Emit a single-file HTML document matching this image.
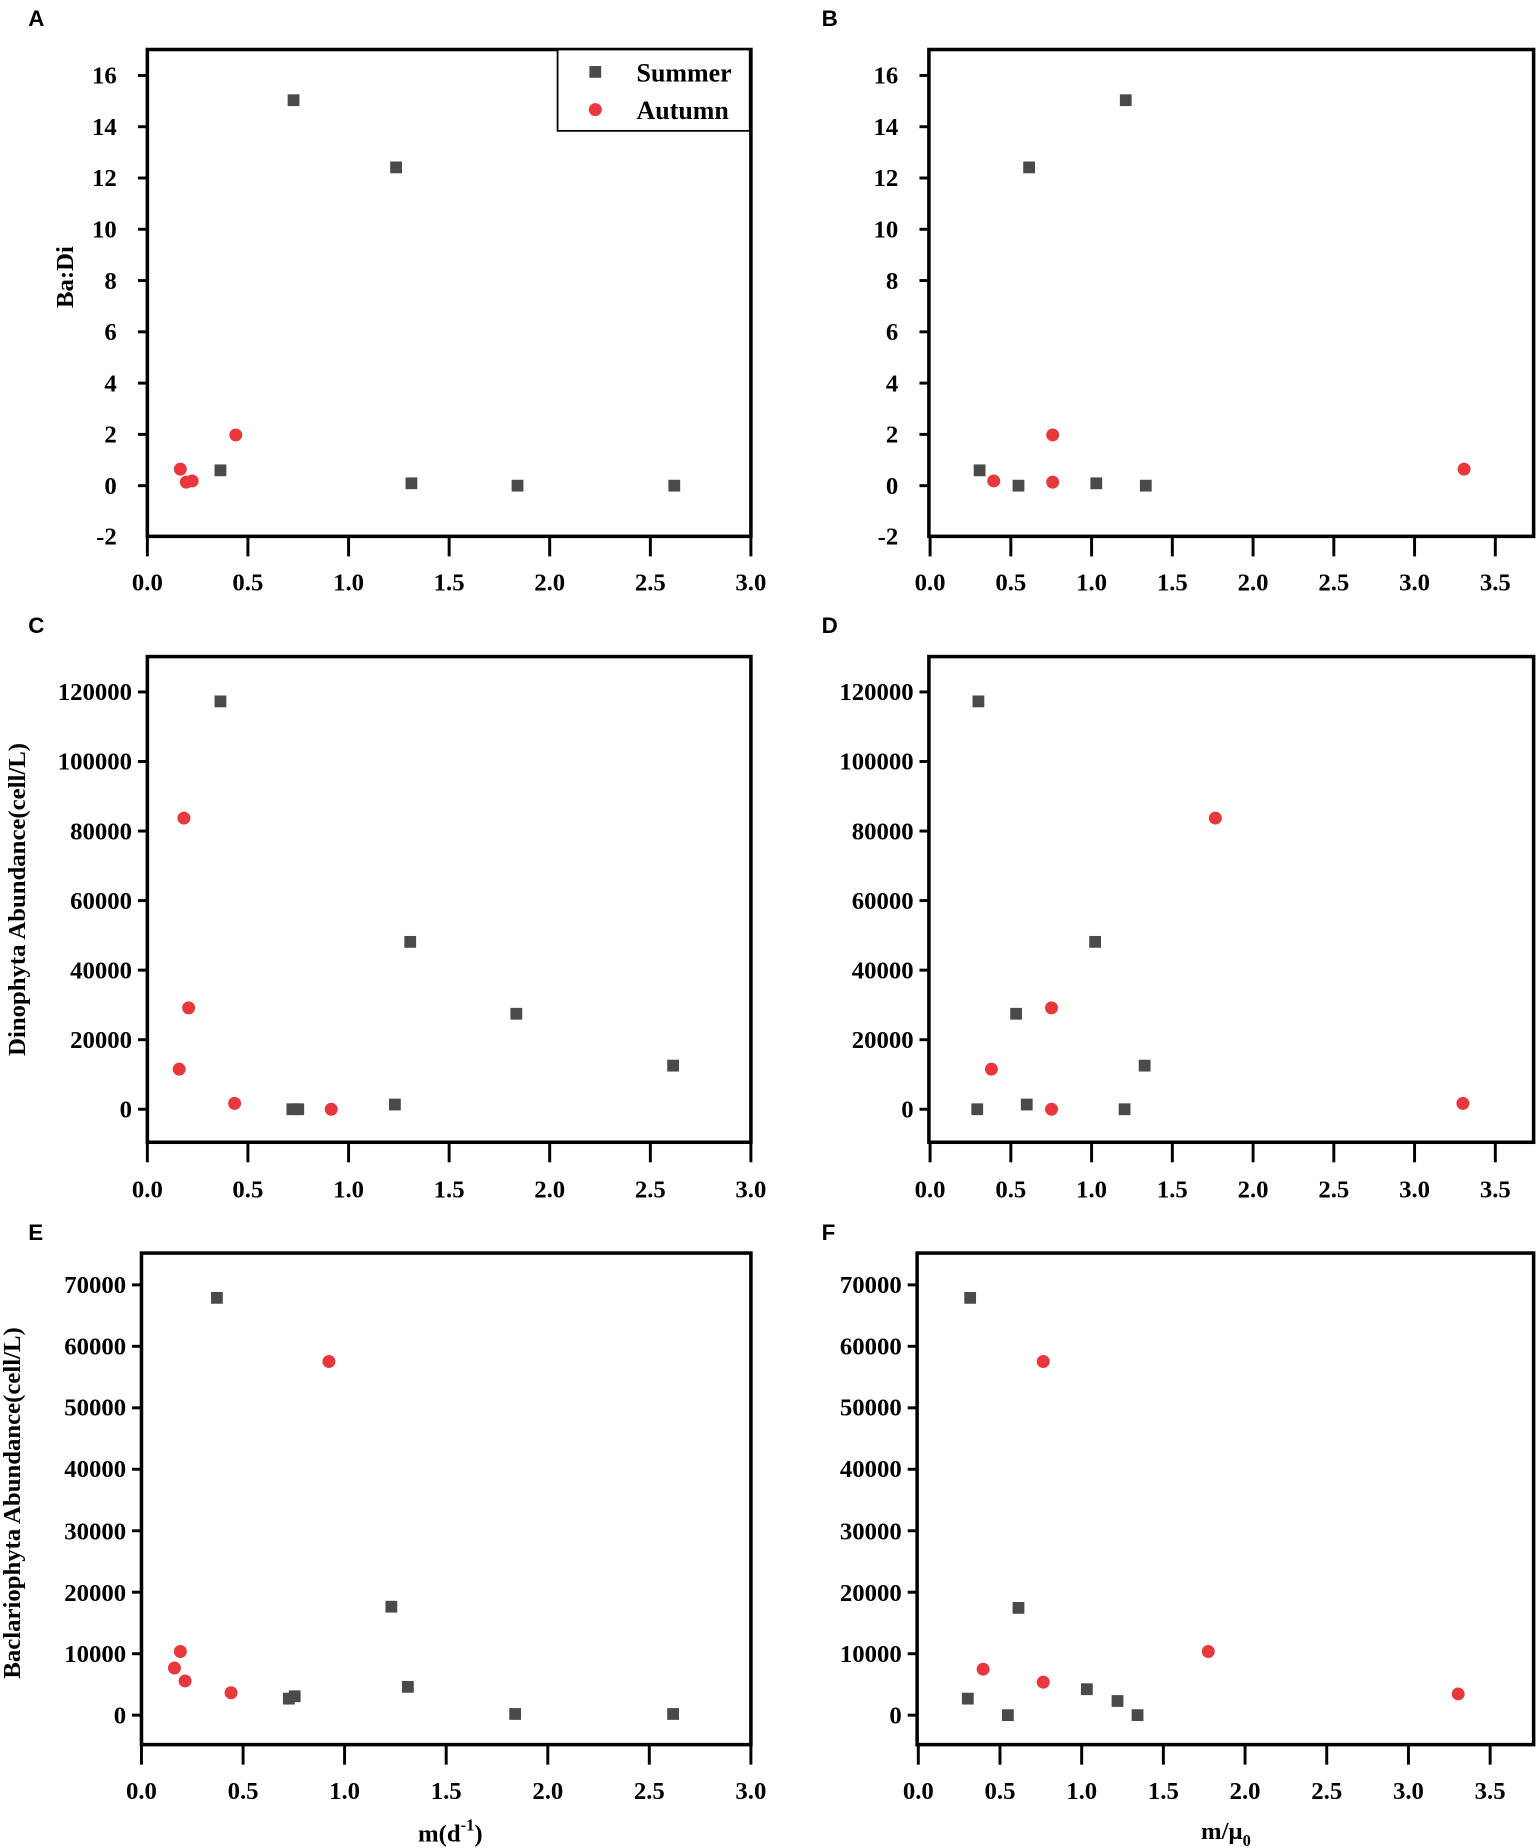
<!DOCTYPE html>
<html><head><meta charset="utf-8"><style>
html,body{margin:0;padding:0;background:#fff;}
svg{display:block;}
.t{font-family:"Liberation Serif",serif;font-weight:bold;font-size:21px;fill:#000;}
.r{text-anchor:end;}
.m{text-anchor:middle;}
.p{font-family:"Liberation Sans",sans-serif;font-weight:bold;font-size:19px;}
.ax{fill:none;stroke:#000;stroke-width:3;}
.tk{stroke:#000;stroke-width:2.5;}
.s{fill:#4a4a4a;}
.c{fill:#e8383d;}
</style></head><body>
<svg width="1536" height="1848" viewBox="0 0 1303 1567.7" xmlns="http://www.w3.org/2000/svg">
<!-- Panel letters -->
<text class="p" x="24" y="22">A</text>
<text class="p" x="697" y="22">B</text>
<text class="p" x="24" y="537">C</text>
<text class="p" x="697" y="537">D</text>
<text class="p" x="24" y="1052">E</text>
<text class="p" x="697" y="1052">F</text>

<!-- ===== A ===== -->
<rect class="ax" x="125" y="42" width="512" height="413"/>
<g class="tk">
<line x1="117" y1="64" x2="125" y2="64"/><line x1="117" y1="107.5" x2="125" y2="107.5"/><line x1="117" y1="151" x2="125" y2="151"/><line x1="117" y1="194.5" x2="125" y2="194.5"/><line x1="117" y1="238" x2="125" y2="238"/><line x1="117" y1="281.5" x2="125" y2="281.5"/><line x1="117" y1="325" x2="125" y2="325"/><line x1="117" y1="368.5" x2="125" y2="368.5"/><line x1="117" y1="412" x2="125" y2="412"/>
<line x1="125" y1="455" x2="125" y2="472"/><line x1="210.3" y1="455" x2="210.3" y2="472"/><line x1="295.7" y1="455" x2="295.7" y2="472"/><line x1="381" y1="455" x2="381" y2="472"/><line x1="466.3" y1="455" x2="466.3" y2="472"/><line x1="551.7" y1="455" x2="551.7" y2="472"/><line x1="637" y1="455" x2="637" y2="472"/>
</g>
<g class="t r">
<text x="99" y="71">16</text><text x="99" y="114.5">14</text><text x="99" y="158">12</text><text x="99" y="201.5">10</text><text x="99" y="245">8</text><text x="99" y="288.5">6</text><text x="99" y="332">4</text><text x="99" y="375.5">2</text><text x="99" y="419">0</text><text x="99" y="462">-2</text>
</g>
<g class="t m">
<text x="125" y="501">0.0</text><text x="210.3" y="501">0.5</text><text x="295.7" y="501">1.0</text><text x="381" y="501">1.5</text><text x="466.3" y="501">2.0</text><text x="551.7" y="501">2.5</text><text x="637" y="501">3.0</text>
</g>
<text class="t m" transform="translate(62,235) rotate(-90)">Ba:Di</text>
<rect x="473" y="42" width="163" height="69" fill="#fff" stroke="#000" stroke-width="1.5"/>
<rect class="s" x="500" y="56" width="10" height="10"/>
<circle class="c" cx="505" cy="93" r="5.5"/>
<text class="t" x="540" y="69" style="font-size:22px">Summer</text>
<text class="t" x="540" y="101" style="font-size:22px">Autumn</text>
<g class="s">
<rect x="244" y="80" width="10" height="10"/><rect x="331" y="137" width="10" height="10"/><rect x="182" y="394" width="10" height="10"/><rect x="344" y="405" width="10" height="10"/><rect x="434" y="407" width="10" height="10"/><rect x="567" y="407" width="10" height="10"/>
</g>
<g class="c">
<circle cx="153" cy="398" r="5.5"/><circle cx="158" cy="409" r="5.5"/><circle cx="163" cy="408" r="5.5"/><circle cx="200" cy="369" r="5.5"/>
</g>

<!-- ===== B ===== -->
<rect class="ax" x="788" y="42" width="513" height="413"/>
<g class="tk">
<line x1="780" y1="64" x2="788" y2="64"/><line x1="780" y1="107.5" x2="788" y2="107.5"/><line x1="780" y1="151" x2="788" y2="151"/><line x1="780" y1="194.5" x2="788" y2="194.5"/><line x1="780" y1="238" x2="788" y2="238"/><line x1="780" y1="281.5" x2="788" y2="281.5"/><line x1="780" y1="325" x2="788" y2="325"/><line x1="780" y1="368.5" x2="788" y2="368.5"/><line x1="780" y1="412" x2="788" y2="412"/>
<line x1="789" y1="455" x2="789" y2="472"/><line x1="857.5" y1="455" x2="857.5" y2="472"/><line x1="926" y1="455" x2="926" y2="472"/><line x1="994.5" y1="455" x2="994.5" y2="472"/><line x1="1063" y1="455" x2="1063" y2="472"/><line x1="1131.5" y1="455" x2="1131.5" y2="472"/><line x1="1200" y1="455" x2="1200" y2="472"/><line x1="1268.5" y1="455" x2="1268.5" y2="472"/>
</g>
<g class="t r">
<text x="762" y="71">16</text><text x="762" y="114.5">14</text><text x="762" y="158">12</text><text x="762" y="201.5">10</text><text x="762" y="245">8</text><text x="762" y="288.5">6</text><text x="762" y="332">4</text><text x="762" y="375.5">2</text><text x="762" y="419">0</text><text x="762" y="462">-2</text>
</g>
<g class="t m">
<text x="789" y="501">0.0</text><text x="857.5" y="501">0.5</text><text x="926" y="501">1.0</text><text x="994.5" y="501">1.5</text><text x="1063" y="501">2.0</text><text x="1131.5" y="501">2.5</text><text x="1200" y="501">3.0</text><text x="1268.5" y="501">3.5</text>
</g>
<g class="s">
<rect x="826" y="394" width="10" height="10"/><rect x="868" y="137" width="10" height="10"/><rect x="950" y="80" width="10" height="10"/><rect x="859" y="407" width="10" height="10"/><rect x="925" y="405" width="10" height="10"/><rect x="967" y="407" width="10" height="10"/>
</g>
<g class="c">
<circle cx="843" cy="408" r="5.5"/><circle cx="893" cy="369" r="5.5"/><circle cx="893" cy="409" r="5.5"/><circle cx="1242" cy="398" r="5.5"/>
</g>

<!-- ===== C ===== -->
<rect class="ax" x="125" y="557" width="512" height="412"/>
<g class="tk">
<line x1="117" y1="587" x2="125" y2="587"/><line x1="117" y1="646" x2="125" y2="646"/><line x1="117" y1="705" x2="125" y2="705"/><line x1="117" y1="764" x2="125" y2="764"/><line x1="117" y1="823" x2="125" y2="823"/><line x1="117" y1="882" x2="125" y2="882"/><line x1="117" y1="941" x2="125" y2="941"/>
<line x1="125" y1="969" x2="125" y2="986"/><line x1="210.3" y1="969" x2="210.3" y2="986"/><line x1="295.7" y1="969" x2="295.7" y2="986"/><line x1="381" y1="969" x2="381" y2="986"/><line x1="466.3" y1="969" x2="466.3" y2="986"/><line x1="551.7" y1="969" x2="551.7" y2="986"/><line x1="637" y1="969" x2="637" y2="986"/>
</g>
<g class="t r">
<text x="112" y="594">120000</text><text x="112" y="653">100000</text><text x="112" y="712">80000</text><text x="112" y="771">60000</text><text x="112" y="830">40000</text><text x="112" y="889">20000</text><text x="112" y="948">0</text>
</g>
<g class="t m">
<text x="125" y="1016">0.0</text><text x="210.3" y="1016">0.5</text><text x="295.7" y="1016">1.0</text><text x="381" y="1016">1.5</text><text x="466.3" y="1016">2.0</text><text x="551.7" y="1016">2.5</text><text x="637" y="1016">3.0</text>
</g>
<text class="t m" transform="translate(21,763) rotate(-90)">Dinophyta Abundance(cell/L)</text>
<g class="s">
<rect x="182" y="590" width="10" height="10"/><rect x="343" y="794" width="10" height="10"/><rect x="433" y="855" width="10" height="10"/><rect x="566" y="899" width="10" height="10"/><rect x="243" y="936" width="10" height="10"/><rect x="248" y="936" width="10" height="10"/><rect x="330" y="932" width="10" height="10"/>
</g>
<g class="c">
<circle cx="156" cy="694" r="5.5"/><circle cx="160" cy="855" r="5.5"/><circle cx="152" cy="907" r="5.5"/><circle cx="199" cy="936" r="5.5"/><circle cx="281" cy="941" r="5.5"/>
</g>

<!-- ===== D ===== -->
<rect class="ax" x="788" y="557" width="513" height="412"/>
<g class="tk">
<line x1="780" y1="587" x2="788" y2="587"/><line x1="780" y1="646" x2="788" y2="646"/><line x1="780" y1="705" x2="788" y2="705"/><line x1="780" y1="764" x2="788" y2="764"/><line x1="780" y1="823" x2="788" y2="823"/><line x1="780" y1="882" x2="788" y2="882"/><line x1="780" y1="941" x2="788" y2="941"/>
<line x1="789" y1="969" x2="789" y2="986"/><line x1="857.5" y1="969" x2="857.5" y2="986"/><line x1="926" y1="969" x2="926" y2="986"/><line x1="994.5" y1="969" x2="994.5" y2="986"/><line x1="1063" y1="969" x2="1063" y2="986"/><line x1="1131.5" y1="969" x2="1131.5" y2="986"/><line x1="1200" y1="969" x2="1200" y2="986"/><line x1="1268.5" y1="969" x2="1268.5" y2="986"/>
</g>
<g class="t r">
<text x="775" y="594">120000</text><text x="775" y="653">100000</text><text x="775" y="712">80000</text><text x="775" y="771">60000</text><text x="775" y="830">40000</text><text x="775" y="889">20000</text><text x="775" y="948">0</text>
</g>
<g class="t m">
<text x="789" y="1016">0.0</text><text x="857.5" y="1016">0.5</text><text x="926" y="1016">1.0</text><text x="994.5" y="1016">1.5</text><text x="1063" y="1016">2.0</text><text x="1131.5" y="1016">2.5</text><text x="1200" y="1016">3.0</text><text x="1268.5" y="1016">3.5</text>
</g>
<g class="s">
<rect x="825" y="590" width="10" height="10"/><rect x="924" y="794" width="10" height="10"/><rect x="857" y="855" width="10" height="10"/><rect x="966" y="899" width="10" height="10"/><rect x="824" y="936" width="10" height="10"/><rect x="866" y="932" width="10" height="10"/><rect x="949" y="936" width="10" height="10"/>
</g>
<g class="c">
<circle cx="1031" cy="694" r="5.5"/><circle cx="892" cy="855" r="5.5"/><circle cx="841" cy="907" r="5.5"/><circle cx="892" cy="941" r="5.5"/><circle cx="1241" cy="936" r="5.5"/>
</g>

<!-- ===== E ===== -->
<rect class="ax" x="120" y="1063" width="517" height="417"/>
<g class="tk">
<line x1="112" y1="1090" x2="120" y2="1090"/><line x1="112" y1="1142.1" x2="120" y2="1142.1"/><line x1="112" y1="1194.3" x2="120" y2="1194.3"/><line x1="112" y1="1246.4" x2="120" y2="1246.4"/><line x1="112" y1="1298.6" x2="120" y2="1298.6"/><line x1="112" y1="1350.7" x2="120" y2="1350.7"/><line x1="112" y1="1402.9" x2="120" y2="1402.9"/><line x1="112" y1="1455" x2="120" y2="1455"/>
<line x1="120" y1="1480" x2="120" y2="1497"/><line x1="206.2" y1="1480" x2="206.2" y2="1497"/><line x1="292.3" y1="1480" x2="292.3" y2="1497"/><line x1="378.5" y1="1480" x2="378.5" y2="1497"/><line x1="464.7" y1="1480" x2="464.7" y2="1497"/><line x1="550.8" y1="1480" x2="550.8" y2="1497"/><line x1="637" y1="1480" x2="637" y2="1497"/>
</g>
<g class="t r">
<text x="107" y="1097">70000</text><text x="107" y="1149">60000</text><text x="107" y="1201">50000</text><text x="107" y="1253">40000</text><text x="107" y="1306">30000</text><text x="107" y="1358">20000</text><text x="107" y="1410">10000</text><text x="107" y="1462">0</text>
</g>
<g class="t m">
<text x="120" y="1526">0.0</text><text x="206.2" y="1526">0.5</text><text x="292.3" y="1526">1.0</text><text x="378.5" y="1526">1.5</text><text x="464.7" y="1526">2.0</text><text x="550.8" y="1526">2.5</text><text x="637" y="1526">3.0</text>
</g>
<text class="t m" transform="translate(17,1275) rotate(-90)">Baclariophyta Abundance(cell/L)</text>
<text class="t m" x="382" y="1562">m(d<tspan dy="-9" font-size="14">-1</tspan><tspan dy="9">)</tspan></text>
<g class="s">
<rect x="179" y="1096" width="10" height="10"/><rect x="327" y="1358" width="10" height="10"/><rect x="341" y="1426" width="10" height="10"/><rect x="240" y="1436" width="10" height="10"/><rect x="245" y="1434" width="10" height="10"/><rect x="432" y="1449" width="10" height="10"/><rect x="566" y="1449" width="10" height="10"/>
</g>
<g class="c">
<circle cx="279" cy="1155" r="5.5"/><circle cx="153" cy="1401" r="5.5"/><circle cx="148" cy="1415" r="5.5"/><circle cx="157" cy="1426" r="5.5"/><circle cx="196" cy="1436" r="5.5"/>
</g>

<!-- ===== F ===== -->
<rect class="ax" x="778" y="1063" width="523" height="417"/>
<g class="tk">
<line x1="770" y1="1090" x2="778" y2="1090"/><line x1="770" y1="1142.1" x2="778" y2="1142.1"/><line x1="770" y1="1194.3" x2="778" y2="1194.3"/><line x1="770" y1="1246.4" x2="778" y2="1246.4"/><line x1="770" y1="1298.6" x2="778" y2="1298.6"/><line x1="770" y1="1350.7" x2="778" y2="1350.7"/><line x1="770" y1="1402.9" x2="778" y2="1402.9"/><line x1="770" y1="1455" x2="778" y2="1455"/>
<line x1="779" y1="1480" x2="779" y2="1497"/><line x1="848.3" y1="1480" x2="848.3" y2="1497"/><line x1="917.6" y1="1480" x2="917.6" y2="1497"/><line x1="986.9" y1="1480" x2="986.9" y2="1497"/><line x1="1056.2" y1="1480" x2="1056.2" y2="1497"/><line x1="1125.5" y1="1480" x2="1125.5" y2="1497"/><line x1="1194.8" y1="1480" x2="1194.8" y2="1497"/><line x1="1264.1" y1="1480" x2="1264.1" y2="1497"/>
</g>
<g class="t r">
<text x="765" y="1097">70000</text><text x="765" y="1149">60000</text><text x="765" y="1201">50000</text><text x="765" y="1253">40000</text><text x="765" y="1306">30000</text><text x="765" y="1358">20000</text><text x="765" y="1410">10000</text><text x="765" y="1462">0</text>
</g>
<g class="t m">
<text x="779" y="1526">0.0</text><text x="848.3" y="1526">0.5</text><text x="917.6" y="1526">1.0</text><text x="986.9" y="1526">1.5</text><text x="1056.2" y="1526">2.0</text><text x="1125.5" y="1526">2.5</text><text x="1194.8" y="1526">3.0</text><text x="1264.1" y="1526">3.5</text>
</g>
<text class="t m" x="1040" y="1560">m/μ<tspan dy="6" font-size="14">0</tspan></text>
<g class="s">
<rect x="818" y="1096" width="10" height="10"/><rect x="859" y="1359" width="10" height="10"/><rect x="917" y="1428" width="10" height="10"/><rect x="943" y="1438" width="10" height="10"/><rect x="816" y="1436" width="10" height="10"/><rect x="850" y="1450" width="10" height="10"/><rect x="960" y="1450" width="10" height="10"/>
</g>
<g class="c">
<circle cx="885" cy="1155" r="5.5"/><circle cx="1025" cy="1401" r="5.5"/><circle cx="834" cy="1416" r="5.5"/><circle cx="885" cy="1427" r="5.5"/><circle cx="1237" cy="1437" r="5.5"/>
</g>
</svg>
</body></html>
